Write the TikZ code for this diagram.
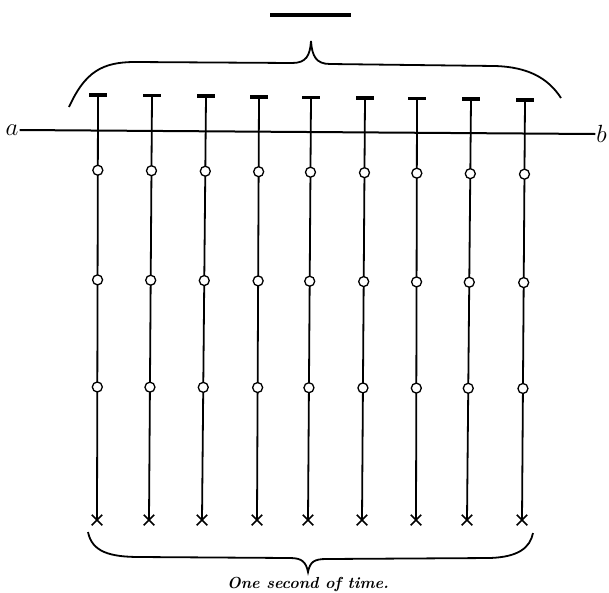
\documentclass[tikz,border=0pt]{standalone}
\usetikzlibrary{calc,shapes.misc}
\begin{document}
\begin{tikzpicture}[x=1pt, y=-1pt,
    ring/.style={circle, draw, fill=white, inner sep=0pt, minimum size=10pt, line width=1.3pt},
    tick/.style={cross out, draw, inner sep=0pt, minimum size=9pt, line width=1.5pt}]
    \useasboundingbox (0,0) rectangle (609,592);
    % the line a--b
    \node[font=\fontsize{24}{26}\selectfont, inner sep=1pt] (a) at (12,130) {$a$};
    \node[font=\fontsize{24}{26}\selectfont, inner sep=1pt, anchor=east] (b) at (608,134) {$b$};
    \draw[line width=2pt] (a.east) -- (b.west);
    % the nine threads
    \foreach \i/\x/\xb in {0/98/97,1/152/149,2/206/202,3/259/257,4/311/308,5/365/362,6/417/416,7/471/467,8/525/522} {
      \coordinate (t\i) at (\x,95+0.6*\i);
      \node[tick] (x\i) at (\xb,520) {};
      \draw[line width=1.8pt] (t\i) -- (x\i.center);
      \draw[line width=3.5pt] (\x-9,95+0.6*\i) -- (\x+9,95+0.6*\i);
      \node[ring] (p\i) at ($(t\i)!0.177!(x\i.center)$) {};
      \node[ring] (q\i) at ($(t\i)!0.435!(x\i.center)$) {};
      \node[ring] (r\i) at ($(t\i)!0.687!(x\i.center)$) {};
    }
    % top bar and braces
    \draw[line width=4pt] (270,15) -- (351,15);
    \draw[line width=1.8pt] (69,107) .. controls (85,72) and (102,62) .. (135,62) -- (292,63)
      .. controls (306,63) and (310,56) .. (311,41)
      .. controls (312,56) and (316,64) .. (330,64) -- (495,66)
      .. controls (528,67) and (548,78) .. (561,98);
    \draw[line width=1.8pt] (88,532) .. controls (92,552) and (110,557) .. (140,557) -- (290,558)
      .. controls (302,558) and (306,562) .. (308,572)
      .. controls (310,562) and (314,559) .. (326,559) -- (490,558)
      .. controls (518,557) and (530,548) .. (533,533);
    \node[font=\fontsize{16}{19}\selectfont\bfseries\itshape] (cap) at (308,584) {One second of time.};
\end{tikzpicture}
\end{document}
